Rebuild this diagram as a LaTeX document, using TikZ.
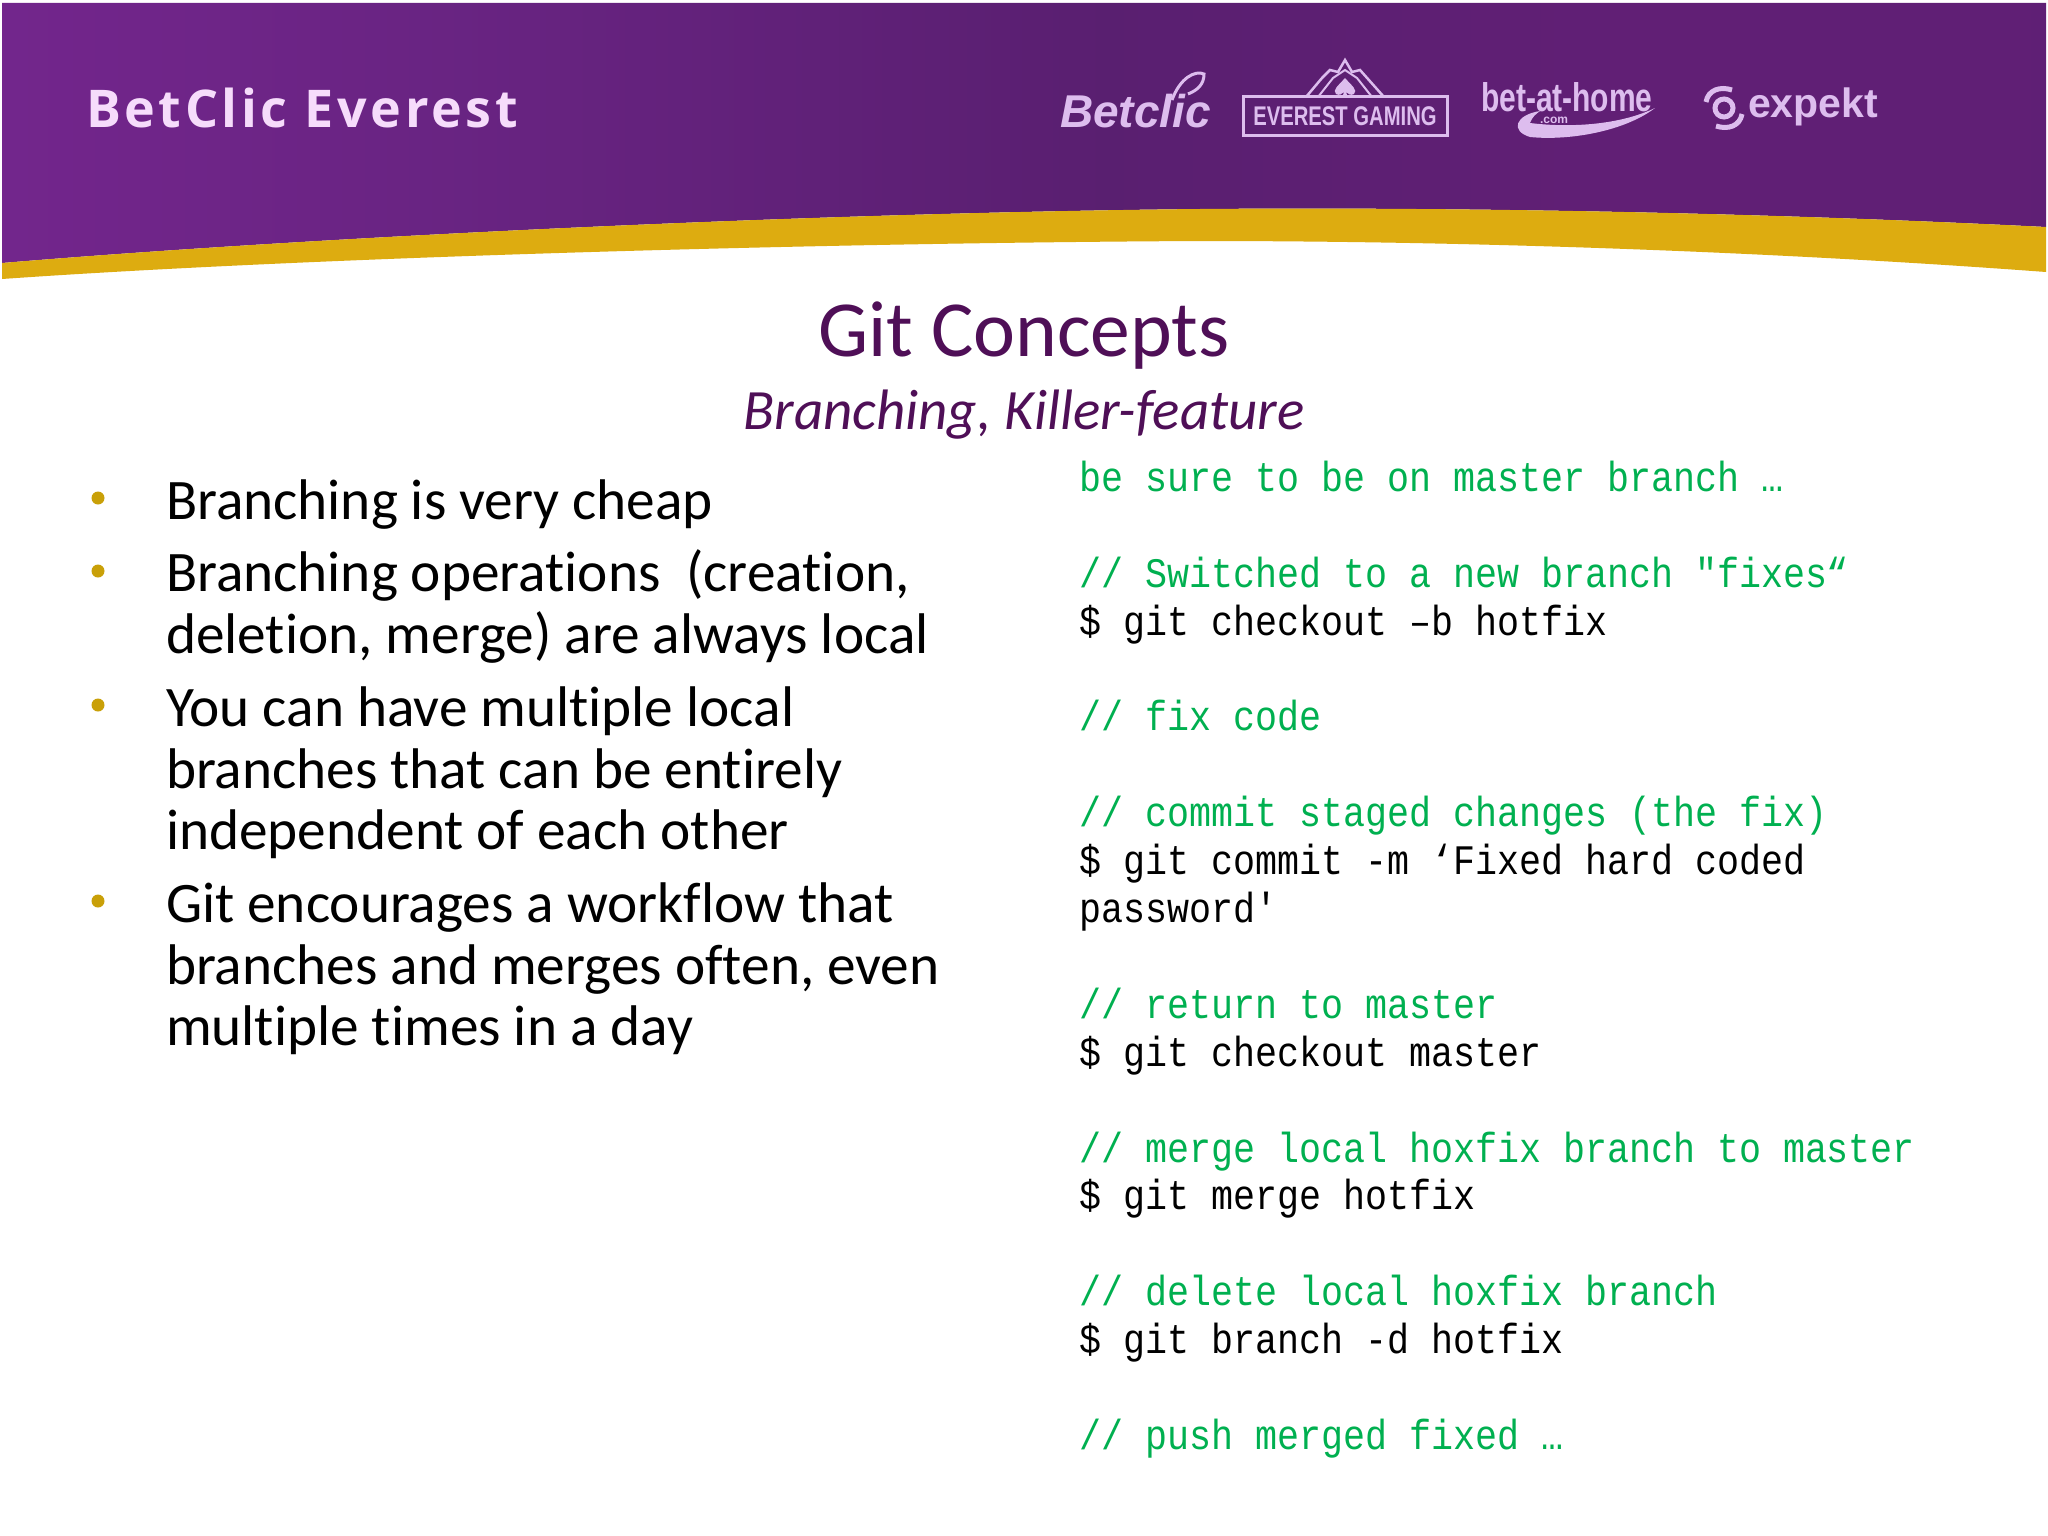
\documentclass[tikz,border=0pt]{standalone}
\usepackage{fontspec}
\usepackage{xcolor}
\setmainfont{Carlito}[Ligatures=NoCommon]
\newfontfamily\codefont[FakeStretch=0.873]{Liberation Mono}
\newfontfamily\headfont[LetterSpace=7]{Open Sans}
\newfontfamily\logofont{Liberation Sans}
\newfontfamily\narrowlogo[FakeStretch=0.75]{Liberation Sans}
\definecolor{bandgold}{HTML}{DDAC10}
\definecolor{bulletgold}{HTML}{C9A008}
\definecolor{titlepurple}{HTML}{4F0F57}
\definecolor{codegreen}{HTML}{00B050}
\definecolor{logolilac}{HTML}{DDBDEE}
\definecolor{headpink}{HTML}{F6DCFB}
\pgfdeclarehorizontalshading{bandshade}{100bp}{rgb(0bp)=(0.37,0.13,0.47); rgb(3bp)=(0.41,0.13,0.52); rgb(22bp)=(0.46,0.15,0.56); rgb(36bp)=(0.41,0.14,0.51); rgb(52bp)=(0.35,0.12,0.44); rgb(65bp)=(0.38,0.12,0.46); rgb(100bp)=(0.36,0.12,0.45)}
\newcommand{\cmt}[1]{\textcolor{codegreen}{#1}}
\begin{document}
\begin{tikzpicture}[x=1pt, y=-1pt, inner sep=0pt, outer sep=0pt,
    item/.style={anchor=north west, align=left, text=black, font=\fontsize{57.3}{61.4}\selectfont},
    dot/.style={circle, fill=bulletgold, minimum size=13pt},
    logo/.style={text=logolilac, font=\logofont\bfseries}]
    \useasboundingbox (0,0) rectangle (2048,1536);
    \fill[white] (0,0) rectangle (2048,1536);

    \shade[shading=bandshade] (2,3) -- (2046,3) -- (2046,227) .. controls (1750,212) and (1450,207) .. (1200,209) .. controls (800,213) and (300,238) .. (2,263) -- cycle;
    \fill[bandgold] (2,263) .. controls (300,238) and (800,213) .. (1200,209) .. controls (1450,207) and (1750,212) .. (2046,227) -- (2046,272) .. controls (1750,250) and (1450,241) .. (1200,241) .. controls (800,243) and (300,258) .. (2,279) -- cycle;

    \node[anchor=base west, text=headpink, font=\headfont\bfseries\fontsize{52}{60}\selectfont] (brand) at (86,128) {BetClic Everest};

    \node[logo, anchor=base west, font=\logofont\bfseries\itshape\fontsize{46}{50}\selectfont] (betclic) at (1060,128) {Betclic};
    \draw[logolilac, line width=3pt] (1172,100) .. controls (1180,78) and (1195,70) .. (1204,74) .. controls (1204,84) and (1198,90) .. (1188,94);
    \node[draw=logolilac, line width=3pt, minimum width=204pt, minimum height=39pt, text=logolilac, font=\narrowlogo\bfseries\fontsize{27}{30}\selectfont] (everest) at (1345,116.5) {EVEREST GAMING};
    \draw[logolilac, line width=2.5pt] (1306,97) -- (1322,78) -- (1330,70) -- (1338,72) -- (1345,60) -- (1352,72) -- (1360,70) -- (1384,97);
    \draw[logolilac, line width=2pt] (1318,97) -- (1333,78) -- (1345,70) -- (1357,78) -- (1372,97);
    \fill[logolilac] (1345,78) .. controls (1338,86) and (1332,90) .. (1336,94) .. controls (1339,96) and (1342,94) .. (1344,92) -- (1342,98) -- (1348,98) -- (1346,92) .. controls (1348,94) and (1351,96) .. (1354,94) .. controls (1358,90) and (1352,86) .. (1345,78) -- cycle;
    \node[logo, anchor=base west, font=\narrowlogo\bfseries\fontsize{40}{42}\selectfont] (bethome) at (1481,112) {bet-at-home};
    \node[text=logolilac, font=\logofont\bfseries\fontsize{12}{12}\selectfont] (betcom) at (1554,120) {.com};
    \fill[logolilac] (1655,108) .. controls (1620,125) and (1570,128) .. (1530,123) .. controls (1532,117) and (1536,114) .. (1540,111) .. controls (1515,115) and (1510,131) .. (1530,137) .. controls (1570,141) and (1625,131) .. (1655,108) -- cycle;
    \node[logo, anchor=base west, font=\logofont\bfseries\fontsize{41}{43}\selectfont] (expekt) at (1748,118) {expekt};
    \draw[logolilac, line width=5pt] (1724,108) circle (9pt);
    \draw[logolilac, line width=5pt] (1706,102) .. controls (1708,90) and (1720,86) .. (1732,90);
    \draw[logolilac, line width=5pt] (1742,114) .. controls (1740,126) and (1728,130) .. (1716,126);

    \node[text=titlepurple, font=\fontsize{79.5}{82}\selectfont] (title) at (1024,336) {Git Concepts};
    \node[text=titlepurple, font=\itshape\fontsize{57}{60}\selectfont] (subtitle) at (1024,415) {Branching, Killer-feature};

    \node[dot] (dot1) at (98,498) {};
    \node[dot] (dot2) at (98,571) {};
    \node[dot] (dot3) at (98,705) {};
    \node[dot] (dot4) at (98,901) {};
    \node[item] (item1) at (166,480) {Branching is very cheap};
    \node[item] (item2) at (166,550) {Branching operations\ \ (creation,\\deletion, merge) are always local};
    \node[item] (item3) at (166,687) {You can have multiple local\\branches that can be entirely\\independent of each other};
    \node[item] (item4) at (166,883) {Git encourages a workflow that\\branches and merges often, even\\multiple times in a day};

    \node[anchor=north west, align=left, font=\codefont\fontsize{42}{47.9}\selectfont] (code) at (1079,461) {%
        \cmt{be sure to be on master branch …}\\[47.9pt]
        \cmt{// Switched to a new branch "fixes“}\\
        \$ git checkout –b hotfix\\[47.9pt]
        \cmt{// fix code}\\[47.9pt]
        \cmt{// commit staged changes (the fix)}\\
        \$ git commit -m ‘Fixed hard coded\\
        password'\\[47.9pt]
        \cmt{// return to master}\\
        \$ git checkout master\\[47.9pt]
        \cmt{// merge local hoxfix branch to master}\\
        \$ git merge hotfix\\[47.9pt]
        \cmt{// delete local hoxfix branch}\\
        \$ git branch -d hotfix\\[47.9pt]
        \cmt{// push merged fixed …}};
\end{tikzpicture}
\end{document}
